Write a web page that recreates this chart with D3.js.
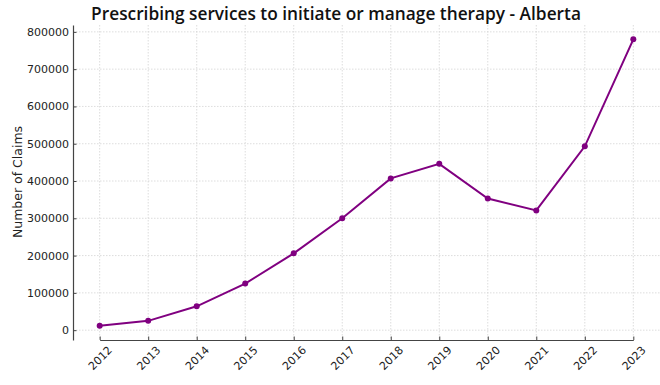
<!DOCTYPE html>
<html>
<head>
<meta charset="utf-8">
<script src="https://cdn.jsdelivr.net/npm/d3@7"></script>
<style>
  body { margin: 0; background: #fff; }
  text { font-family: "DejaVu Sans", sans-serif; }
</style>
</head>
<body>
<div id="chart"></div>
<script>
// values
const years = ["2012", "2013", "2014", "2015", "2016", "2017", "2018", "2019", "2020", "2021", "2022", "2023"];
const claims = [12000, 25000, 64000, 125000, 206000, 300000, 407000, 446000, 353000, 321000, 493000, 780000];
const yTicks = [0, 100000, 200000, 300000, 400000, 500000, 600000, 700000, 800000];

const width = 660, height = 385;
const margin = {top: 25, left: 73, right: 0, bottom: 45};
const innerW = width - margin.left - margin.right;
const innerH = height - margin.top - margin.bottom;

const svg = d3.select("#chart").append("svg")
    .attr("width", width)
    .attr("height", height);

// 5% padding like matplotlib
const step = innerW / (years.length - 1 + 1.1);
const x = d3.scalePoint()
    .domain(years)
    .range([margin.left + step * 0.55, width - margin.right - step * 0.55]);

const yMin = d3.min(claims), yMax = d3.max(claims);
const pad = (yMax - yMin) * 0.05;
const y = d3.scaleLinear()
    .domain([yMin - pad, yMax + pad])
    .range([margin.top + innerH, margin.top]);

// grid
const grid = svg.append("g");
grid.selectAll("line.gx")
    .data(years)
    .join("line")
    .attr("class", "gx")
    .attr("x1", d => x(d)).attr("x2", d => x(d))
    .attr("y1", margin.top).attr("y2", margin.top + innerH)
    .attr("stroke", "#d4d4d4").attr("stroke-width", 0.8)
    .attr("stroke-dasharray", "1.5,1.5");
grid.selectAll("line.gy")
    .data(yTicks)
    .join("line")
    .attr("class", "gy")
    .attr("x1", margin.left).attr("x2", width - margin.right)
    .attr("y1", d => y(d)).attr("y2", d => y(d))
    .attr("stroke", "#d4d4d4").attr("stroke-width", 0.8)
    .attr("stroke-dasharray", "1.5,1.5");

// axes (ticks point inward)
const xAxis = svg.append("g")
    .attr("transform", `translate(0,${margin.top + innerH})`)
    .call(d3.axisBottom(x).tickSizeInner(-3.5).tickSizeOuter(0));
xAxis.select(".domain").attr("stroke", "#444").attr("stroke-width", 1.2);
xAxis.selectAll(".tick line").attr("stroke", "#444");
xAxis.selectAll(".tick text")
    .attr("font-size", 11)
    .attr("fill", "#222")
    .attr("text-anchor", "middle")
    .attr("y", 0)
    .attr("dy", "0.35em")
    .attr("transform", "translate(0,18) rotate(-45)");

const yAxis = svg.append("g")
    .attr("transform", `translate(${margin.left},0)`)
    .call(d3.axisLeft(y).tickValues(yTicks).tickFormat(d3.format("d")).tickSizeInner(-3.5).tickSizeOuter(0).tickPadding(4));
yAxis.select(".domain").attr("stroke", "#444").attr("stroke-width", 1.2);
yAxis.selectAll(".tick line").attr("stroke", "#444");
yAxis.selectAll(".tick text").attr("font-size", 11).attr("fill", "#222");

// line + markers
const line = d3.line()
    .x((d, i) => x(years[i]))
    .y(d => y(d));

svg.append("path")
    .datum(claims)
    .attr("d", line)
    .attr("fill", "none")
    .attr("stroke", "#800080")
    .attr("stroke-width", 2);

svg.selectAll("circle.pt")
    .data(claims)
    .join("circle")
    .attr("class", "pt")
    .attr("cx", (d, i) => x(years[i]))
    .attr("cy", d => y(d))
    .attr("r", 3)
    .attr("fill", "#800080");

// labels
svg.append("text")
    .attr("x", 336)
    .attr("y", 20)
    .attr("text-anchor", "middle")
    .attr("font-size", 17.3)
    .attr("font-weight", 600)
    .style("font-family", "'Open Sans', sans-serif")
    .attr("fill", "#111")
    .text("Prescribing services to initiate or manage therapy - Alberta");

svg.append("text")
    .attr("transform", "translate(22,182) rotate(-90)")
    .attr("text-anchor", "middle")
    .attr("font-size", 12.5)
    .attr("fill", "#222")
    .text("Number of Claims");
</script>
</body>
</html>
